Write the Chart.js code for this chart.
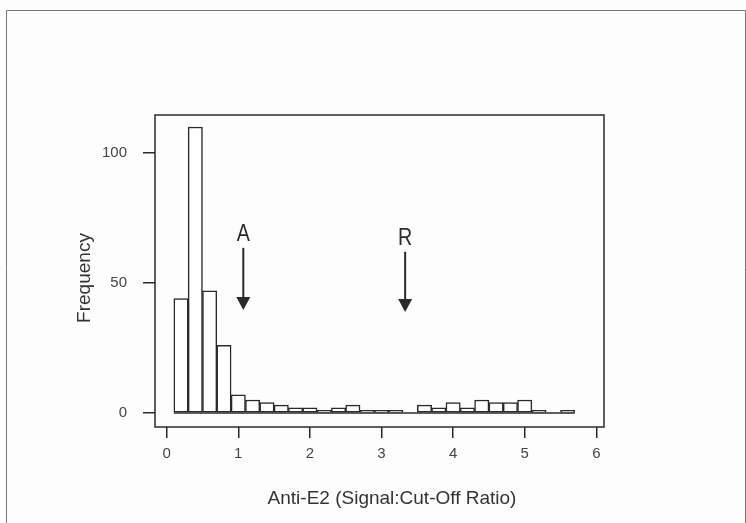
<!DOCTYPE html>
<html>
<head>
<meta charset="utf-8">
<script src="https://cdn.jsdelivr.net/npm/chart.js@4.4.1/dist/chart.umd.min.js"></script>
<style>
  html, body { margin: 0; padding: 0; background: #fdfdfd; }
  #wrap { position: absolute; left: 0; top: 0; width: 746px; height: 523px; }
</style>
</head>
<body>
<div id="wrap"><canvas id="hist"></canvas></div>
<script>
// bin centres (width 0.2) and counts
let binCenters = [0.2, 0.4, 0.6, 0.8, 1.0, 1.2, 1.4, 1.6, 1.8, 2.0, 2.2, 2.4, 2.6, 2.8,
                  3.0, 3.2, 3.4, 3.6, 3.8, 4.0, 4.2, 4.4, 4.6, 4.8, 5.0, 5.2, 5.4, 5.6];
let counts = [44, 110, 47, 26, 7, 5, 4, 3, 2, 2, 1, 2, 3, 1,
              1, 1, 0, 3, 2, 4, 2, 5, 4, 4, 5, 1, 0, 1];
let binEdges = [0.1, 5.7];
let xTicks = [0, 1, 2, 3, 4, 5, 6];
let yTicks = [0, 50, 100];

// arrows marked on the plot
let markerLabels = ["A", "R"];
let markerX = [1.07, 3.33];
let markerTop = [63.5, 62];
let markerTip = [39.6, 38.8];
let markerLabelY = [69, 67.7];

let ink = "#2a2a2a";
let fam = "'Liberation Sans', Arial, sans-serif";

let framePlugin = {
  id: "frame",
  afterDatasetsDraw(chart) {
    let ctx = chart.ctx;
    let a = chart.chartArea;
    let xs = chart.scales.x, ys = chart.scales.y;
    ctx.save();

    // outer frame
    ctx.strokeStyle = "#777";
    ctx.lineWidth = 1;
    ctx.beginPath();
    ctx.moveTo(6.5, 530);
    ctx.lineTo(6.5, 10.5);
    ctx.lineTo(745.5, 10.5);
    ctx.lineTo(745.5, 530);
    ctx.stroke();

    // plot box
    ctx.strokeStyle = ink;
    ctx.lineWidth = 1.5;
    ctx.strokeRect(a.left, a.top, a.right - a.left, a.bottom - a.top);

    // arrows
    ctx.fillStyle = ink;
    ctx.textAlign = "center";
    ctx.textBaseline = "middle";
    markerLabels.forEach((lab, i) => {
      let px = xs.getPixelForValue(markerX[i]);
      let top = ys.getPixelForValue(markerTop[i]);
      let tip = ys.getPixelForValue(markerTip[i]);
      ctx.save();
      ctx.translate(px, ys.getPixelForValue(markerLabelY[i]) + 1);
      ctx.scale(0.82, 1);
      ctx.font = "24px " + fam;
      ctx.fillText(lab, 0, 0);
      ctx.restore();
      ctx.lineWidth = 2;
      ctx.beginPath();
      ctx.moveTo(px, top);
      ctx.lineTo(px, tip - 10);
      ctx.stroke();
      ctx.beginPath();
      ctx.moveTo(px - 7, tip - 13);
      ctx.lineTo(px + 7, tip - 13);
      ctx.lineTo(px, tip);
      ctx.closePath();
      ctx.fill();
    });

    // axis titles
    ctx.fillStyle = "#333";
    ctx.font = "19px " + fam;
    ctx.fillText("Anti-E2 (Signal:Cut-Off Ratio)", 392, 499);
    ctx.translate(85, 278);
    ctx.rotate(-Math.PI / 2);
    ctx.font = "19px " + fam;
    ctx.fillText("Frequency", 0, 0);
    ctx.restore();
  }
};

let ctx = document.getElementById("hist").getContext("2d");
new Chart(ctx, {
  type: "bar",
  data: {
    datasets: [
      {
        type: "line",
        data: binEdges.map(v => ({ x: v, y: 0 })),
        borderColor: ink,
        borderWidth: 1.5,
        pointRadius: 0,
        order: 0
      },
      {
        data: binCenters.map((c, i) => ({ x: c, y: counts[i] })),
        backgroundColor: "#ffffff",
        borderColor: ink,
        borderWidth: 1.5,
        borderSkipped: false,
        barPercentage: 1,
        categoryPercentage: 1,
        order: 1
      }
    ]
  },
  options: {
    responsive: true,
    maintainAspectRatio: false,
    animation: false,
    layout: { padding: { top: 115, right: 142, bottom: 10, left: 60 } },
    plugins: {
      legend: { display: false },
      tooltip: { enabled: false }
    },
    scales: {
      x: {
        type: "linear",
        offset: false,
        min: -0.163,
        max: 6.107,
        afterBuildTicks: s => { s.ticks = xTicks.map(v => ({ value: v })); },
        afterFit: s => { s.height = 86; },
        ticks: {
          color: "#444",
          font: { size: 15, family: fam },
          padding: 7,
          maxRotation: 0
        },
        grid: { offset: false, drawOnChartArea: false, drawTicks: true, tickLength: 11, color: ink, lineWidth: 1.5 },
        border: { display: false }
      },
      y: {
        min: -5.4,
        max: 114.6,
        afterBuildTicks: s => { s.ticks = yTicks.map(v => ({ value: v })); },
        afterFit: s => { s.width = 95; },
        ticks: {
          color: "#444",
          font: { size: 15, family: fam },
          padding: 16
        },
        grid: { drawOnChartArea: false, drawTicks: true, tickLength: 12, color: ink, lineWidth: 1.5 },
        border: { display: false }
      }
    }
  },
  plugins: [framePlugin]
});
</script>
</body>
</html>
